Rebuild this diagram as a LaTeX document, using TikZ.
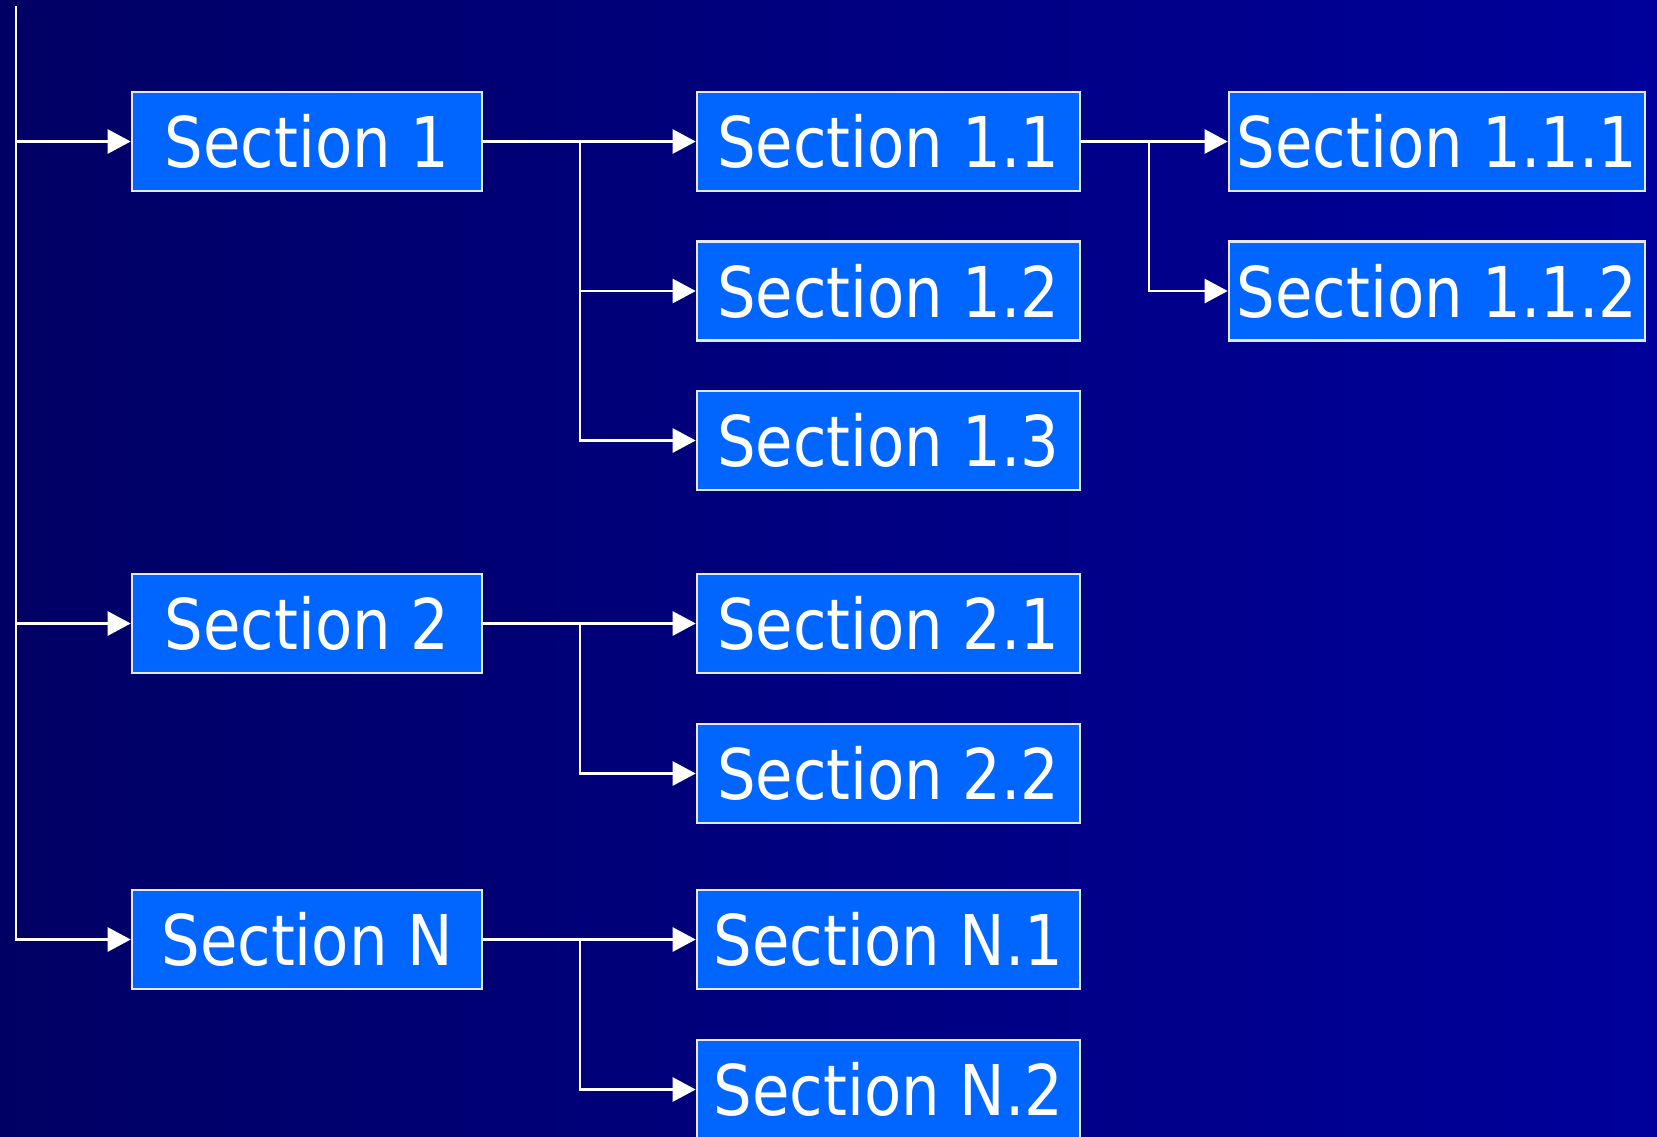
\documentclass[tikz,border=0pt]{standalone}
\usepackage{fontspec}
\setmainfont{DejaVu Sans}[FakeStretch=0.87]
\usetikzlibrary{arrows.meta}
\definecolor{bgleft}{RGB}{0,0,100}
\definecolor{bgright}{RGB}{0,0,155}
\definecolor{boxfill}{RGB}{0,102,255}
\definecolor{boxline}{RGB}{230,232,245}
\tikzset{
  secbox/.style={draw=boxline, line width=2.6pt, fill=boxfill, text=white,
    inner sep=0pt, minimum height=99pt, font=\fontsize{70}{80}\selectfont},
  colA/.style={secbox, minimum width=350pt},
  colB/.style={secbox, minimum width=383pt},
  colC/.style={secbox, minimum width=416pt},
  conn/.style={draw=white, line width=2.6pt},
  arr/.style={conn, -{Triangle[length=23pt,width=24pt]}}
}
\begin{document}
\begin{tikzpicture}[x=1pt,y=-1pt]
\useasboundingbox (0,0) rectangle (1657,1136);
\fill[left color=bgleft, right color=bgright] (0,0) rectangle (1657,1136);

\node[colA] (s1) at (307,141.5) {Section 1};
\node[colA] (s2) at (307,623.5) {Section 2};
\node[colA] (sN) at (307,939.5) {Section N};

\node[colB] (s11) at (888.5,141.5) {Section 1.1};
\node[colB] (s12) at (888.5,291) {Section 1.2};
\node[colB] (s13) at (888.5,440.5) {Section 1.3};
\node[colB] (s21) at (888.5,623.5) {Section 2.1};
\node[colB] (s22) at (888.5,773.5) {Section 2.2};
\node[colB] (sN1) at (888.5,939.5) {Section N.1};
\node[colB] (sN2) at (888.5,1089.5) {Section N.2};

\node[colC] (s111) at (1437,141.5) {Section 1.1.1};
\node[colC] (s112) at (1437,291) {Section 1.1.2};

% trunk
\coordinate (top) at (16,6);
\draw[arr] (top) |- (s1.west);
\draw[arr] (top) |- (s2.west);
\draw[arr] (top) |- (sN.west);

% Section 1 branch
\coordinate (b1) at (580,141.5);
\draw[arr] (s1.east) -- (s11.west);
\draw[arr] (b1) |- (s12.west);
\draw[arr] (b1) |- (s13.west);

% Section 2 branch
\coordinate (b2) at (580,623.5);
\draw[arr] (s2.east) -- (s21.west);
\draw[arr] (b2) |- (s22.west);

% Section N branch
\coordinate (bN) at (580,939.5);
\draw[arr] (sN.east) -- (sN1.west);
\draw[arr] (bN) |- (sN2.west);

% Section 1.1 branch
\coordinate (b11) at (1149,141.5);
\draw[arr] (s11.east) -- (s111.west);
\draw[arr] (b11) |- (s112.west);
\end{tikzpicture}
\end{document}
